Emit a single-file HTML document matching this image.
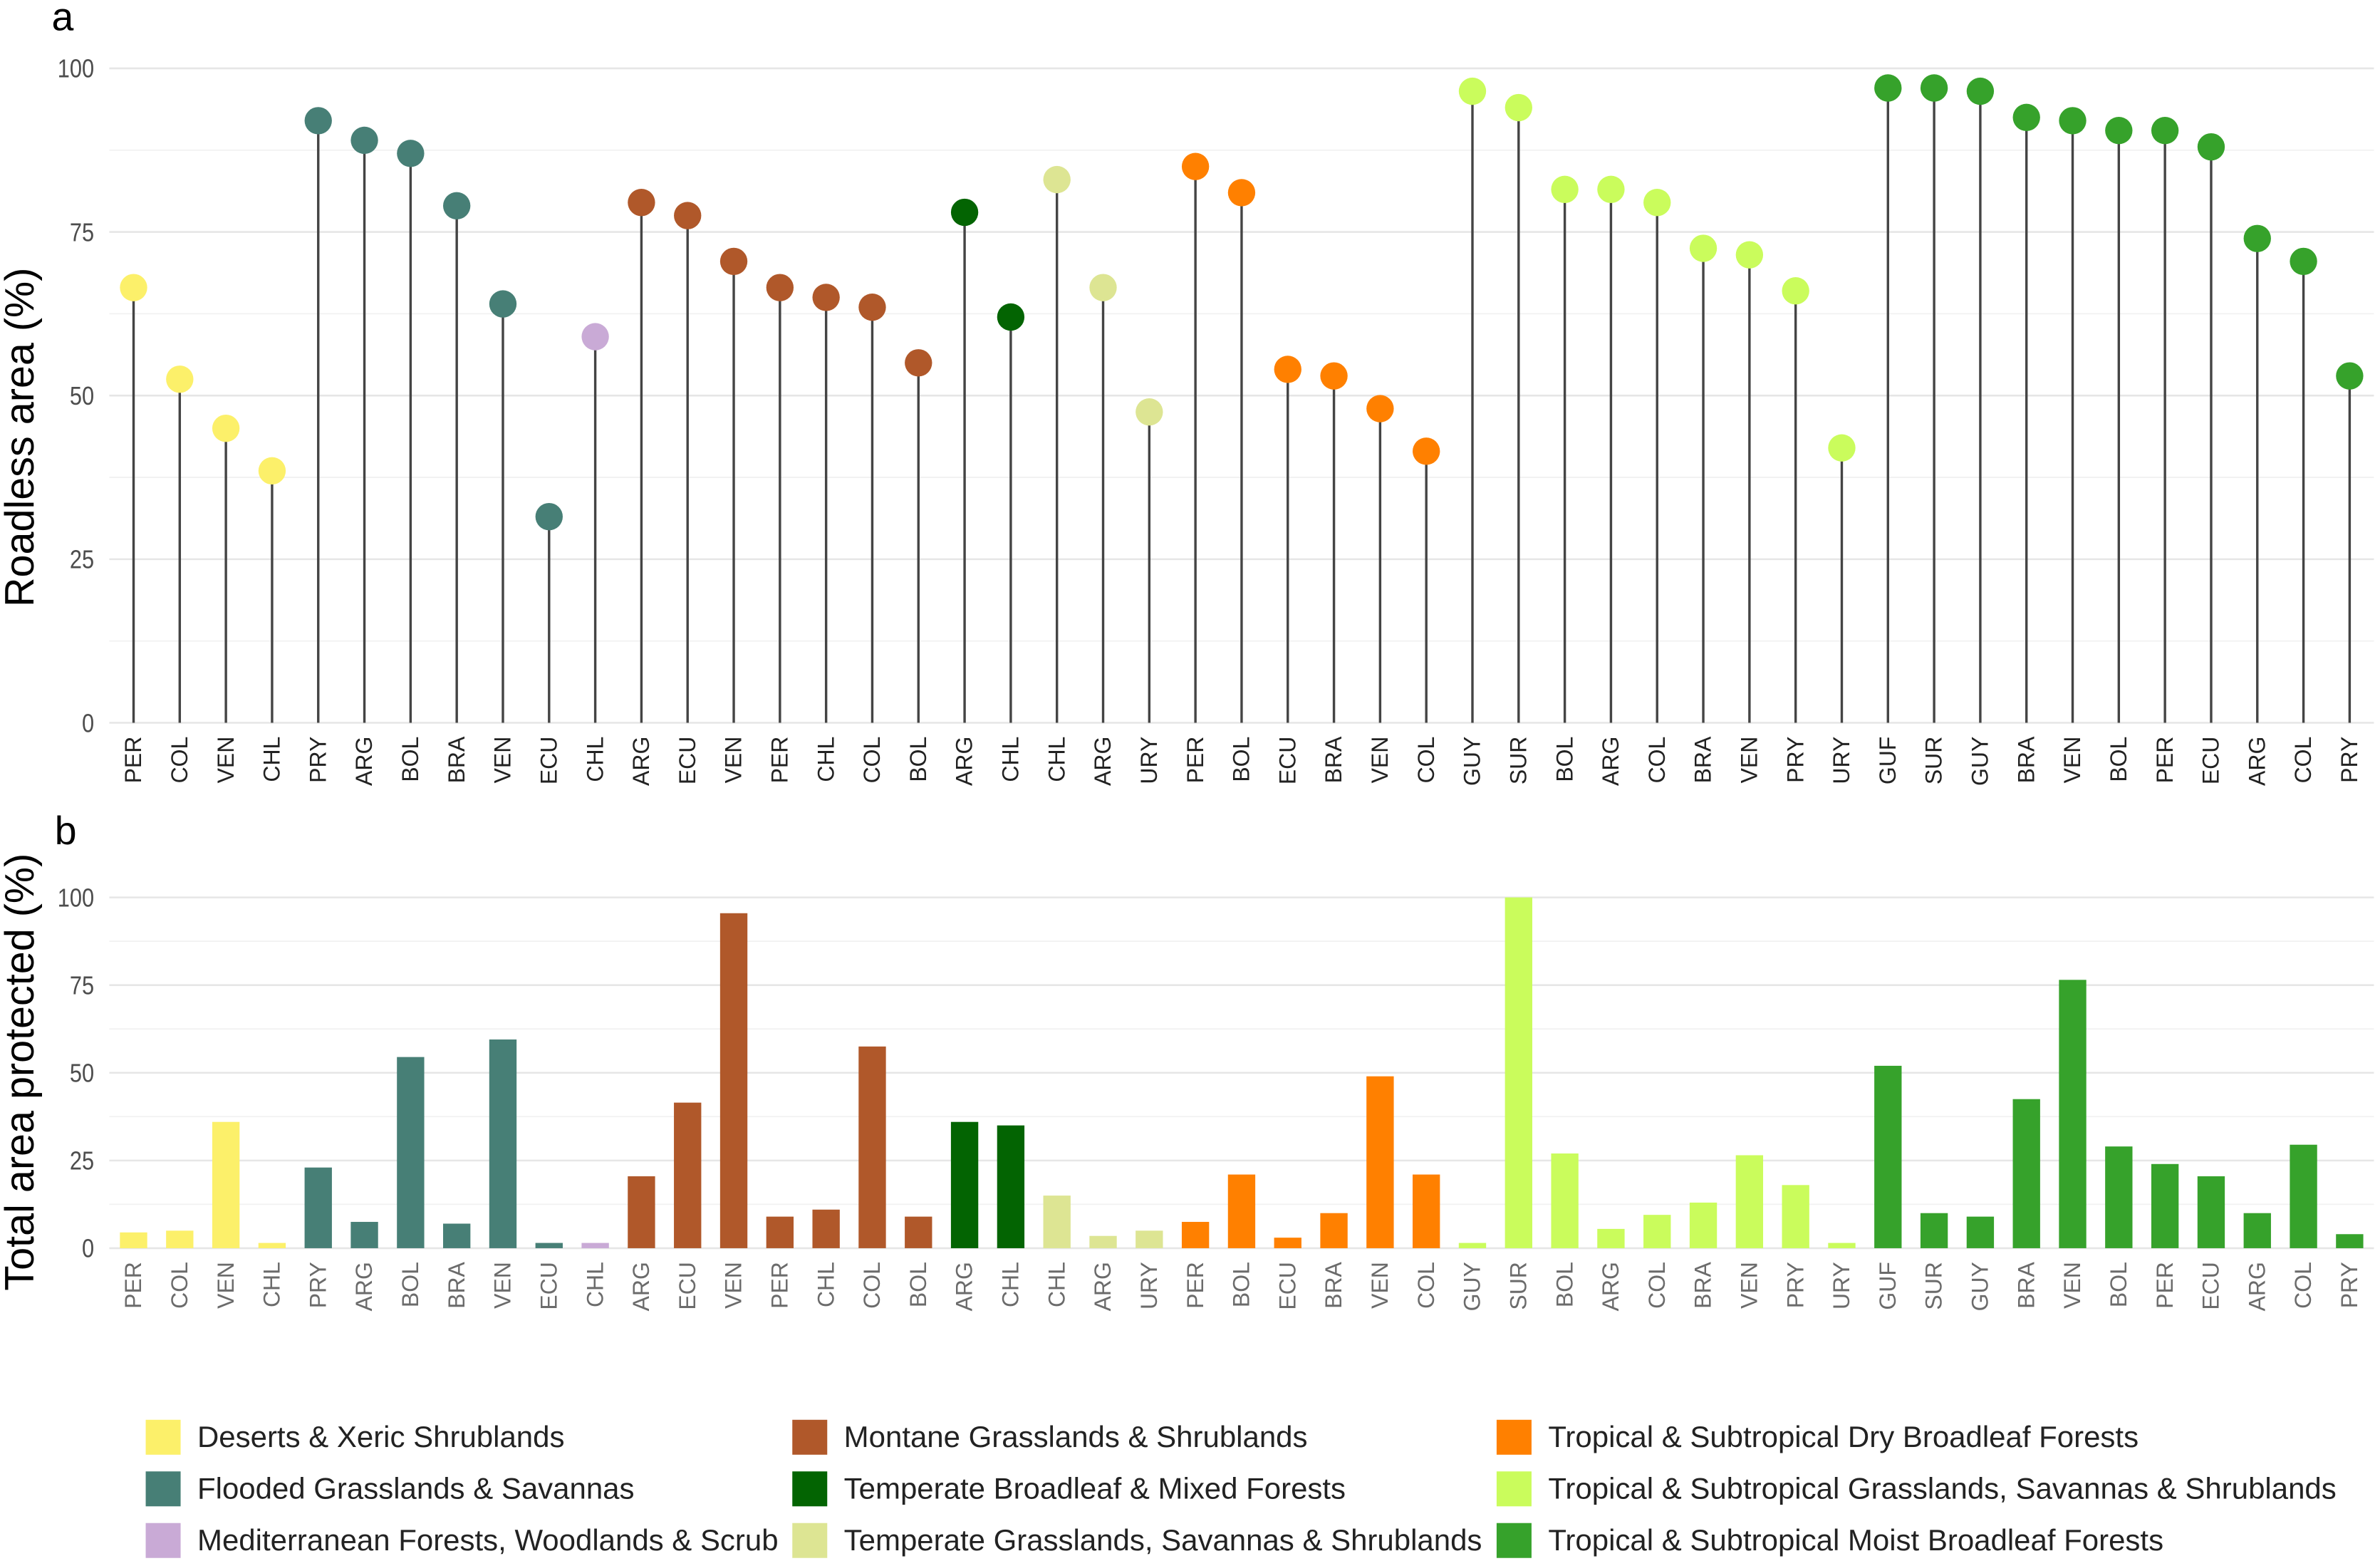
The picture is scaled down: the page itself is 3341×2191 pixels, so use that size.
<!DOCTYPE html>
<html><head><meta charset="utf-8"><style>
html,body{margin:0;padding:0;background:#fff}
svg{display:block}
text{font-family:"Liberation Sans",sans-serif}
</style></head><body>
<svg id="chart" width="3341" height="2191" viewBox="0 0 1568 1028" preserveAspectRatio="none" xmlns="http://www.w3.org/2000/svg">
<rect width="1568" height="1028" fill="#fff"/>
<g id="pa"></g>
<g id="pb"></g>
<g id="lg"></g>
</svg>
<script>
const countries=["PER","COL","VEN","CHL","PRY","ARG","BOL","BRA","VEN","ECU","CHL","ARG","ECU","VEN","PER","CHL","COL","BOL","ARG","CHL","CHL","ARG","URY","PER","BOL","ECU","BRA","VEN","COL","GUY","SUR","BOL","ARG","COL","BRA","VEN","PRY","URY","GUF","SUR","GUY","BRA","VEN","BOL","PER","ECU","ARG","COL","PRY"];
const biomeIdx=[0,0,0,0,1,1,1,1,1,1,2,3,3,3,3,3,3,3,4,4,5,5,5,6,6,6,6,6,6,7,7,7,7,7,7,7,7,7,8,8,8,8,8,8,8,8,8,8,8];
const roadless=[66.5,52.5,45,38.5,92,89,87,79,64,31.5,59,79.5,77.5,70.5,66.5,65,63.5,55,78,62,83,66.5,47.5,85,81,54,53,48,41.5,96.5,94,81.5,81.5,79.5,72.5,71.5,66,42,97,97,96.5,92.5,92,90.5,90.5,88,74,70.5,53];
const protectedPct=[4.5,5,36,1.5,23,7.5,54.5,7,59.5,1.5,1.5,20.5,41.5,95.5,9,11,57.5,9,36,35,15,3.5,5,7.5,21,3,10,49,21,1.5,100,27,5.5,9.5,13,26.5,18,1.5,52,10,9,42.5,76.5,29,24,20.5,10,29.5,4];
const biomes=["Deserts & Xeric Shrublands","Flooded Grasslands & Savannas","Mediterranean Forests, Woodlands & Scrub","Montane Grasslands & Shrublands","Temperate Broadleaf & Mixed Forests","Temperate Grasslands, Savannas & Shrublands","Tropical & Subtropical Dry Broadleaf Forests","Tropical & Subtropical Grasslands, Savannas & Shrublands","Tropical & Subtropical Moist Broadleaf Forests"];
const biomeColors=["#fcf06a","#477f76","#c9aad6","#b0582a","#036402","#dde593","#ff8000","#cafc5c","#36a22b"];
const ticks=[0,25,50,75,100];
const NS="http://www.w3.org/2000/svg";
function mk(p,t,a,txt){const e=document.createElementNS(NS,t);for(const k in a)e.setAttribute(k,a[k]);if(txt!==undefined)e.textContent=txt;p.appendChild(e);return e;}
const x=i=>88+i*(1548-88)/(countries.length-1);
const ya=v=>476-v*(476-45)/100;
const yb=v=>822-v*(822-591)/100;
const pa=document.getElementById('pa'),pb=document.getElementById('pb'),lg=document.getElementById('lg');
function axis(g,y,xLabelColor,top,bottom){
  for(let v=-12.5;v<=112.5;v+=12.5){const yy=y(v);if(yy<top-2||yy>bottom+2)continue;
    const l=mk(g,'line',{x1:72,x2:1564,y1:yy,y2:yy,stroke:v%25===0?'#e6e6e6':'#f1f1f1','stroke-width':v%25===0?1.2:0.8});
    
    }
  ticks.forEach(v=>{const t=mk(g,'text',{x:62,y:y(v)+6,'text-anchor':'end','font-size':17,fill:'#4d4d4d',transform:`translate(62 0) scale(0.85 1) translate(-62 0)`},v);
    
    });
  countries.forEach((c,i)=>{const t=mk(g,'text',{x:0,y:0,'text-anchor':'end','font-size':15,fill:xLabelColor,transform:`translate(${x(i)+5},${y(0)+9}) rotate(-90)`},c);
    
    });
}
axis(pa,ya,'#222',40,480);
axis(pb,yb,'#6b6b6b',585,826);
let t;
t=mk(pa,'text',{x:0,y:0,'font-size':27,fill:'#000',transform:'translate(22,288) rotate(-90)','text-anchor':'middle'},'Roadless area (%)');

t=mk(pb,'text',{x:0,y:0,'font-size':27,fill:'#000',transform:'translate(22,706) rotate(-90)','text-anchor':'middle'},'Total area protected (%)');

t=mk(pa,'text',{x:34,y:20,'font-size':26,fill:'#000'},'a');

t=mk(pb,'text',{x:36,y:556,'font-size':26,fill:'#000'},'b');

roadless.forEach((v,i)=>{
  const l=mk(pa,'line',{x1:x(i),x2:x(i),y1:ya(0),y2:ya(v),stroke:'#444','stroke-width':1.6});
  
  
  const c=mk(pa,'circle',{cx:x(i),cy:ya(v),r:9,fill:biomeColors[biomeIdx[i]]});
  
  
});
protectedPct.forEach((v,i)=>{
  const r=mk(pb,'rect',{x:x(i)-9,y:yb(v),width:18,height:yb(0)-yb(v),fill:biomeColors[biomeIdx[i]]});
  
  
});
biomes.forEach((b,i)=>{
  const col=Math.floor(i/3),row=i%3;
  const lx=[96,522,986][col],ly=935+row*34;
  const g=mk(lg,'g',{});
  
  
  mk(g,'rect',{x:lx,y:ly,width:23,height:23,fill:biomeColors[i]});
  mk(g,'text',{x:lx+34,y:ly+18,'font-size':19.7,fill:'#222'},b);
});
</script>
</body></html>
